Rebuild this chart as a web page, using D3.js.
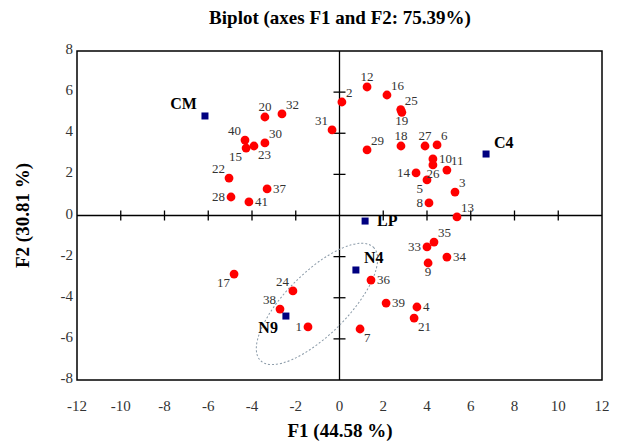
<!doctype html>
<html lang="en">
<head>
<meta charset="UTF-8">
<title>Biplot</title>
<script src="https://d3js.org/d3.v7.min.js"></script>
<style>
  body { margin: 0; background: #fff; }
  text { font-family: "Liberation Serif", "Times New Roman", serif; }
</style>
</head>
<body>
<div id="chart-area"></div>

<script>

// observations (red dots)
const obsIds = [1, 2, 3, 4, 5, 6, 7, 8, 9, 10,
                11, 12, 13, 14, 15, 16, 17, 18, 19, 20,
                21, 22, 23, 24, 25, 26, 27, 28, 29, 30,
                31, 32, 33, 34, 35, 36, 37, 38, 39, 40, 41];
const obsF1 = [-1.44, 0.11, 5.28, 3.54, 4.00, 4.46, 0.94, 4.09, 4.05, 4.27,
               4.91, 1.26, 5.37, 3.50, -4.27, 2.17, -4.82, 2.81, 2.85, -3.41,
               3.41, -5.05, -3.91, -2.13, 2.80, 4.27, 3.91, -4.96, 1.26, -3.41,
               -0.34, -2.63, 4.00, 4.91, 4.32, 1.44, -3.31, -2.72, 2.13, -4.32, -4.14];
const obsF2 = [-5.42, 5.52, 1.14, -4.45, 1.73, 3.43, -5.52, 0.61, -2.31, 2.75,
               2.21, 6.25, -0.07, 2.07, 3.28, 5.86, -2.85, 3.38, 5.02, 4.79,
               -4.99, 1.82, 3.38, -3.67, 5.15, 2.46, 3.38, 0.90, 3.19, 3.53,
               4.16, 4.94, -1.53, -2.02, -1.29, -3.14, 1.29, -4.55, -4.26, 3.67, 0.66];
// where each number sits around its dot
const obsLabelSide = ['l', 'tr', 'tr', 'r', 'bl', 'tr', 'br', 'l', 'b', 'r',
                      'tr', 't', 'tr', 'l', 'bl', 'tr', 'bl', 't', 'b', 't',
                      'br', 'tl', 'br', 'tl', 'tr', 'b', 't', 'l', 'tr', 'tr',
                      'tl', 'tr', 'l', 'r', 'tr', 'r', 'r', 'tl', 'r', 'tl', 'r'];

// variables (blue squares)
const varNames = ['CM', 'C4', 'LP', 'N4', 'N9'];
const varF1 = [-6.15, 6.70, 1.17, 0.75, -2.45];
const varF2 = [4.84, 2.99, -0.27, -2.65, -4.89];
const varLabelSide = ['tl', 'tr', 'r', 'tr', 'bl'];

const xTicks = d3.range(-12, 13, 2);
const yTicks = d3.range(-8, 9, 2);

// group ellipse around N9/N4 (centre in F1/F2 units)
const ellipseCentre = [-1.03, -4.3];

const W = 624, H = 441;
const plot = { left: 77, right: 602, top: 51, bottom: 380 };

const svg = d3.select('#chart-area')
    .append('svg')
    .attr('width', W)
    .attr('height', H);

const x = d3.scaleLinear().domain([-12, 12]).range([plot.left, plot.right]);
const y = d3.scaleLinear().domain([-8, 8]).range([plot.bottom, plot.top]);

// title
svg.append('text')
    .attr('x', 340).attr('y', 24)
    .attr('text-anchor', 'middle')
    .style('font-size', '19px').style('font-weight', 'bold')
    .text('Biplot (axes F1 and F2: 75.39%)');

// frame
svg.append('rect')
    .attr('x', plot.left).attr('y', plot.top)
    .attr('width', plot.right - plot.left)
    .attr('height', plot.bottom - plot.top)
    .attr('fill', 'none').attr('stroke', '#000').attr('stroke-width', 1.5);

// zero axes
svg.append('line')
    .attr('x1', plot.left).attr('x2', plot.right)
    .attr('y1', y(0)).attr('y2', y(0))
    .attr('stroke', '#000').attr('stroke-width', 1.3);
svg.append('line')
    .attr('x1', x(0)).attr('x2', x(0))
    .attr('y1', plot.top).attr('y2', plot.bottom)
    .attr('stroke', '#000').attr('stroke-width', 1.3);

// cross ticks on the zero axes
svg.selectAll('.xtick')
    .data(xTicks.filter(d => d > -12 && d < 12 && d !== 0))
    .enter().append('line')
    .attr('class', 'xtick')
    .attr('x1', d => x(d)).attr('x2', d => x(d))
    .attr('y1', y(0) - 5).attr('y2', y(0) + 5)
    .attr('stroke', '#000').attr('stroke-width', 1.3);

svg.selectAll('.ytick')
    .data(yTicks.filter(d => d > -8 && d < 8 && d !== 0))
    .enter().append('line')
    .attr('class', 'ytick')
    .attr('x1', x(0) - 6).attr('x2', x(0) + 6)
    .attr('y1', d => y(d)).attr('y2', d => y(d))
    .attr('stroke', '#000').attr('stroke-width', 1.3);

// tick labels outside the frame
svg.selectAll('.xlab')
    .data(xTicks)
    .enter().append('text')
    .attr('class', 'xlab')
    .attr('x', d => x(d)).attr('y', plot.bottom + 31)
    .attr('text-anchor', 'middle')
    .style('font-size', '15px').attr('fill', '#333')
    .text(d => d);

svg.selectAll('.ylab')
    .data(yTicks)
    .enter().append('text')
    .attr('class', 'ylab')
    .attr('x', plot.left - 4).attr('y', d => y(d) + 3)
    .attr('text-anchor', 'end')
    .style('font-size', '15px').attr('fill', '#333')
    .text(d => d);

// axis titles
svg.append('text')
    .attr('x', 340).attr('y', 437)
    .attr('text-anchor', 'middle')
    .style('font-size', '19px').style('font-weight', 'bold')
    .text('F1 (44.58 %)');

svg.append('text')
    .attr('transform', `translate(29,${y(0)}) rotate(-90)`)
    .attr('text-anchor', 'middle')
    .style('font-size', '19px').style('font-weight', 'bold')
    .text('F2 (30.81 %)');

// ellipse
svg.append('ellipse')
    .attr('transform', `translate(${x(ellipseCentre[0])},${y(ellipseCentre[1])}) rotate(-45)`)
    .attr('rx', 80).attr('ry', 31)
    .attr('fill', 'none')
    .attr('stroke', '#8a9aa8').attr('stroke-width', 1)
    .attr('stroke-dasharray', '2,2');

const sides = {
    r:  { dx: 6,  dy: 4,  anchor: 'start' },
    l:  { dx: -6, dy: 4,  anchor: 'end' },
    t:  { dx: 0,  dy: -6, anchor: 'middle' },
    b:  { dx: 0,  dy: 13, anchor: 'middle' },
    tr: { dx: 4,  dy: -5, anchor: 'start' },
    tl: { dx: -4, dy: -5, anchor: 'end' },
    br: { dx: 4,  dy: 13, anchor: 'start' },
    bl: { dx: -4, dy: 13, anchor: 'end' }
};

const obs = obsIds.map((id, i) => ({ id, f1: obsF1[i], f2: obsF2[i], side: obsLabelSide[i] }));
const vars = varNames.map((n, i) => ({ n, f1: varF1[i], f2: varF2[i], side: varLabelSide[i] }));

svg.selectAll('.obs')
    .data(obs)
    .enter().append('circle')
    .attr('class', 'obs')
    .attr('cx', d => x(d.f1)).attr('cy', d => y(d.f2))
    .attr('r', 4.4)
    .attr('fill', '#f00');

svg.selectAll('.obslab')
    .data(obs)
    .enter().append('text')
    .attr('class', 'obslab')
    .attr('x', d => x(d.f1) + sides[d.side].dx)
    .attr('y', d => y(d.f2) + sides[d.side].dy)
    .attr('text-anchor', d => sides[d.side].anchor)
    .style('font-size', '13px').attr('fill', '#333')
    .text(d => d.id);

svg.selectAll('.var')
    .data(vars)
    .enter().append('rect')
    .attr('class', 'var')
    .attr('x', d => x(d.f1) - 3.5).attr('y', d => y(d.f2) - 3.5)
    .attr('width', 7).attr('height', 7)
    .attr('fill', '#000080');

svg.selectAll('.varlab')
    .data(vars)
    .enter().append('text')
    .attr('class', 'varlab')
    .attr('x', d => x(d.f1) + sides[d.side].dx * 2)
    .attr('y', d => y(d.f2) + sides[d.side].dy * 1.3)
    .attr('text-anchor', d => sides[d.side].anchor)
    .style('font-size', '16px').style('font-weight', 'bold')
    .text(d => d.n);

</script>
</body>
</html>
